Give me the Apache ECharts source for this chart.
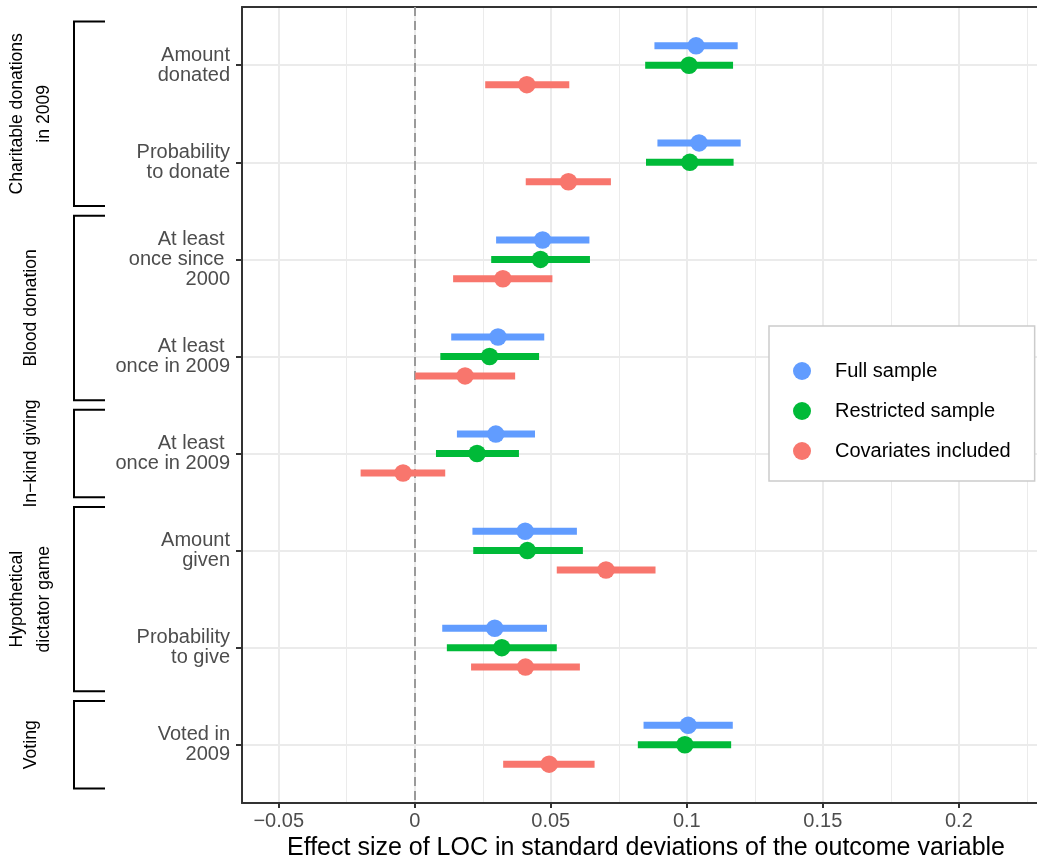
<!DOCTYPE html>
<html>
<head>
<meta charset="utf-8">
<script src="https://cdn.jsdelivr.net/npm/echarts@6/dist/echarts.min.js"></script>
<style>
html,body{margin:0;padding:0;background:#fff;}
#chart{width:1037px;height:863px;}
</style>
</head>
<body>
<div id="chart"></div>
<script>
// ---- data ----
const categories = ["Amount\ndonated", "Probability\nto donate", "At least \nonce since \n2000", "At least \nonce in 2009", "At least \nonce in 2009", "Amount\ngiven", "Probability\nto give", "Voted in\n2009"];
const seriesNames = ["Full sample", "Restricted sample", "Covariates included"];
const fullEst = [0.1034, 0.1045, 0.0470, 0.0306, 0.0298, 0.0406, 0.0294, 0.1005];
const fullLo  = [0.0881, 0.0892, 0.0299, 0.0134, 0.0155, 0.0212, 0.0101, 0.0841];
const fullHi  = [0.1187, 0.1198, 0.0642, 0.0476, 0.0442, 0.0596, 0.0486, 0.1169];
const restEst = [0.1008, 0.1011, 0.0462, 0.0275, 0.0229, 0.0414, 0.0320, 0.0993];
const restLo  = [0.0847, 0.0850, 0.0281, 0.0094, 0.0078, 0.0215, 0.0118, 0.0820];
const restHi  = [0.1170, 0.1172, 0.0644, 0.0457, 0.0383, 0.0618, 0.0522, 0.1163];
const covEst  = [0.0412, 0.0565, 0.0324, 0.0185, -0.0043, 0.0703, 0.0407, 0.0494];
const covLo   = [0.0259, 0.0408, 0.0141, 0.0002, -0.0199, 0.0522, 0.0207, 0.0325];
const covHi   = [0.0568, 0.0721, 0.0506, 0.0369, 0.0112, 0.0885, 0.0607, 0.0661];
const groupNames = ["Charitable donations\nin 2009", "Blood donation", "In\u2212kind giving", "Hypothetical\ndictator game", "Voting"];
const groupFirst = [1, 3, 5, 6, 8];
const groupLast  = [2, 4, 5, 7, 8];
const xMajorTicks = [-0.05, 0, 0.05, 0.1, 0.15, 0.2];
const xMinorTicks = [-0.025, 0.025, 0.075, 0.125, 0.175, 0.225];
const xLimits = [-0.0635, 0.2335];

// ---- styling ----
const FONT = "'Liberation Sans', Arial, Helvetica, sans-serif";
const colors = ["#619CFF", "#00BA38", "#F8766D"];
const offsets = [-0.2, 0, 0.2];
const catPos = categories.map((c, i) => i + 1);

const est = [fullEst, restEst, covEst];
const lo = [fullLo, restLo, covLo];
const hi = [fullHi, restHi, covHi];

const series = [];
// error bars
for (let s = 0; s < 3; s++) {
  series.push({
    type: 'custom',
    name: seriesNames[s] + ' CI',
    xAxisIndex: 0, yAxisIndex: 0,
    silent: true,
    z: 3,
    encode: {x: [0, 1], y: 2},
    data: catPos.map((p, i) => [lo[s][i], hi[s][i], p + offsets[s]]),
    renderItem: (function (col) {
      return function (params, api) {
        const a = api.coord([api.value(0), api.value(2)]);
        const b = api.coord([api.value(1), api.value(2)]);
        return {type: 'line', shape: {x1: a[0], y1: a[1], x2: b[0], y2: b[1]},
          style: {stroke: col, lineWidth: 7, lineCap: 'butt'}};
      };
    })(colors[s]),
    markLine: s === 0 ? {
      silent: true, symbol: 'none', z: 2,
      label: {show: false},
      lineStyle: {color: '#9A9A9A', width: 2, type: [9, 5]},
      data: [{xAxis: 0}]
    } : undefined
  });
}
// points
for (let s = 0; s < 3; s++) {
  series.push({
    type: 'scatter',
    name: seriesNames[s],
    xAxisIndex: 0, yAxisIndex: 0,
    symbol: 'circle', symbolSize: 17.5,
    itemStyle: {color: colors[s], opacity: 1},
    silent: true, z: 4,
    data: catPos.map((p, i) => [est[s][i], p + offsets[s]])
  });
}
// group brackets and labels
series.push({
  type: 'custom',
  name: 'groups',
  xAxisIndex: 0, yAxisIndex: 0,
  silent: true, clip: false, z: 5,
  encode: {y: [0, 1]},
  data: groupNames.map((g, i) => [groupFirst[i] - 0.45, groupLast[i] + 0.45]),
  renderItem: function (params, api) {
    const left = params.coordSys.x;
    const y1 = api.coord([0, api.value(0)])[1];
    const y2 = api.coord([0, api.value(1)])[1];
    const xv = left - 168, xe = left - 137, xt = left - 211;
    return {
      type: 'group',
      children: [
        {type: 'polyline', shape: {points: [[xe, y1], [xv, y1], [xv, y2], [xe, y2]]},
          style: {stroke: '#000', lineWidth: 2, fill: null}},
        {type: 'text', x: xt, y: (y1 + y2) / 2, rotation: Math.PI / 2,
          style: {text: groupNames[params.dataIndex], fill: '#000', font: '17.6px ' + FONT,
            fontSize: 17.6, fontFamily: FONT, lineHeight: 27,
            align: 'center', verticalAlign: 'middle'}}
      ]
    };
  }
});

const chart = echarts.init(document.getElementById('chart'), null, {renderer: 'canvas'});
chart.setOption({
  backgroundColor: '#ffffff',
  animation: false,
  textStyle: {fontFamily: FONT},
  grid: {left: 242, right: -13, top: 7, bottom: 60, containLabel: false, outerBoundsMode: 'none'},
  legend: {
    data: seriesNames,
    orient: 'vertical',
    left: 769, top: 326,
    icon: 'circle',
    itemWidth: 18, itemHeight: 18, itemGap: 20,
    padding: [35, 24, 20, 24],
    borderColor: '#CCCCCC', borderWidth: 1.5, borderRadius: 0,
    backgroundColor: '#ffffff',
    selectedMode: false,
    textStyle: {fontSize: 20, color: '#000', fontFamily: FONT, lineHeight: 20, padding: [0, 0, 0, 19]}
  },
  xAxis: [{
    type: 'value', position: 'bottom',
    min: xLimits[0], max: xLimits[1],
    axisLine: {show: true, onZero: false, lineStyle: {color: '#333333', width: 2}},
    axisTick: {show: true, length: 5, customValues: xMajorTicks, lineStyle: {color: '#333333', width: 2}},
    axisLabel: {show: true, customValues: xMajorTicks, fontSize: 20, color: '#4D4D4D', fontFamily: FONT, margin: 8,
      formatter: function (v) { return v < 0 ? '\u2212' + Math.abs(v) : String(v); }},
    splitLine: {show: true, lineStyle: {color: '#EBEBEB', width: 2}},
    name: 'Effect size of LOC in standard deviations of the outcome variable',
    nameLocation: 'middle', nameGap: 29,
    nameTextStyle: {fontSize: 25, color: '#000', fontFamily: FONT}
  }, {
    type: 'value', position: 'top',
    min: xLimits[0], max: xLimits[1],
    axisLine: {show: true, onZero: false, lineStyle: {color: '#333333', width: 2}},
    axisTick: {show: false, customValues: xMinorTicks},
    axisLabel: {show: false},
    splitLine: {show: true, lineStyle: {color: '#EBEBEB', width: 1}}
  }],
  yAxis: [{
    type: 'value', inverse: true,
    min: 0.4, max: 8.6,
    axisLine: {show: true, onZero: false, lineStyle: {color: '#333333', width: 2}},
    axisTick: {show: true, length: 6, customValues: catPos, lineStyle: {color: '#333333', width: 2}},
    axisLabel: {show: true, customValues: catPos, fontSize: 20, lineHeight: 20, color: '#4D4D4D', fontFamily: FONT, margin: 12,
      align: 'right',
      formatter: function (v) { return categories[Math.round(v) - 1]; }},
    splitLine: {show: true, lineStyle: {color: '#EBEBEB', width: 2}}
  }],
  series: series
});
</script>
</body>
</html>
